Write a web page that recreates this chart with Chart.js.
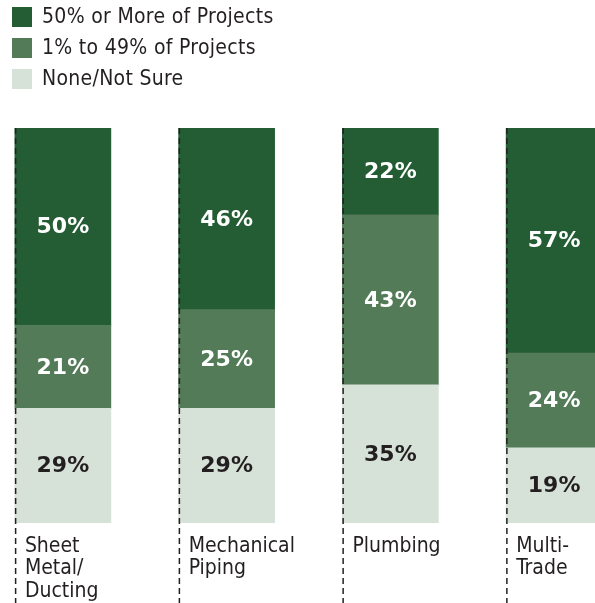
<!DOCTYPE html>
<html>
<head>
<meta charset="utf-8">
<script src="https://cdn.jsdelivr.net/npm/chart.js@4.4.0/dist/chart.umd.min.js"></script>
<style>
    html, body { margin: 0; padding: 0; background: #fff; overflow: hidden; }
    #wrap { position: absolute; left: -19px; top: 0; width: 655px; height: 603px; }
</style>
</head>
<body>
<div id="wrap"><canvas id="graphCanvas"></canvas></div>
<script>
var trades = [['Sheet', 'Metal/', 'Ducting'], ['Mechanical', 'Piping'], ['Plumbing'], ['Multi-', 'Trade']];
var seriesNames = ['50% or More of Projects', '1% to 49% of Projects', 'None/Not Sure'];
var mostProjects = [50, 46, 22, 57];
var someProjects = [21, 25, 43, 24];
var noneNotSure = [29, 29, 35, 19];

var narrowFont = '"Liberation Sans Narrow", "DejaVu Sans Condensed", "Arial Narrow", sans-serif';
var ink = '#231f20';

// legend stacked in rows above the bars, top series first
var rowLegend = {
    id: 'rowLegend',
    afterDraw: function (chart) {
        var ctx = chart.ctx;
        var sets = chart.data.datasets.slice().reverse();
        ctx.save();
        ctx.font = '21px ' + narrowFont;
        ctx.letterSpacing = '0.3px';
        ctx.textBaseline = 'middle';
        for (var i = 0; i < sets.length; i++) {
            var cy = 17 + i * 31;
            ctx.fillStyle = sets[i].backgroundColor;
            ctx.fillRect(31, cy - 10, 20, 20);
            ctx.fillStyle = ink;
            ctx.fillText(sets[i].label, 61, cy + 1);
        }
        ctx.restore();
    }
};

// dashed rule down the left edge of each column, then the percentages
var columnMarks = {
    id: 'columnMarks',
    afterDatasetsDraw: function (chart) {
        var ctx = chart.ctx;
        var metas = chart.data.datasets.map(function (d, i) { return chart.getDatasetMeta(i); });
        ctx.save();
        ctx.strokeStyle = ink;
        ctx.lineWidth = 1.5;
        ctx.setLineDash([6, 4]);
        metas[0].data.forEach(function (bar, j) {
            var top = metas[metas.length - 1].data[j].y;
            var x = bar.x - bar.width / 2 + 0.75;
            ctx.beginPath();
            ctx.moveTo(x, top);
            ctx.lineTo(x, chart.height);
            ctx.stroke();
        });
        ctx.setLineDash([]);

        ctx.font = 'bold 22px "DejaVu Sans", sans-serif';
        ctx.textAlign = 'center';
        ctx.textBaseline = 'middle';
        metas.forEach(function (meta, i) {
            var ds = chart.data.datasets[i];
            meta.data.forEach(function (bar, j) {
                ctx.fillStyle = ds.labelColor;
                ctx.fillText(ds.data[j] + '%', bar.x, (bar.y + bar.base) / 2 + 1);
            });
        });
        ctx.restore();
    }
};

var chartdata = {
    labels: trades,
    datasets: [
        { label: seriesNames[2], data: noneNotSure, backgroundColor: '#d6e1d7', labelColor: ink },
        { label: seriesNames[1], data: someProjects, backgroundColor: '#537b57', labelColor: '#ffffff' },
        { label: seriesNames[0], data: mostProjects, backgroundColor: '#245d34', labelColor: '#ffffff' }
    ]
};

var barGraph = new Chart(document.getElementById('graphCanvas'), {
    type: 'bar',
    data: chartdata,
    plugins: [rowLegend, columnMarks],
    options: {
        responsive: true,
        maintainAspectRatio: false,
        animation: false,
        devicePixelRatio: 1,
        barThickness: 96,
        layout: { padding: { top: 128, left: 0, right: 0, bottom: 0 } },
        plugins: { legend: { display: false }, tooltip: { enabled: false } },
        scales: {
            x: {
                stacked: true,
                grid: { display: false },
                border: { display: false },
                ticks: {
                    align: 'start',
                    labelOffset: -38,
                    padding: 4,
                    maxRotation: 0,
                    autoSkip: false,
                    color: ink,
                    font: { family: narrowFont, size: 21, lineHeight: 1.08 }
                },
                afterFit: function (scale) { scale.height = 80; }
            },
            y: {
                stacked: true,
                display: false,
                min: 0,
                max: 100
            }
        }
    }
});
</script>
</body>
</html>
